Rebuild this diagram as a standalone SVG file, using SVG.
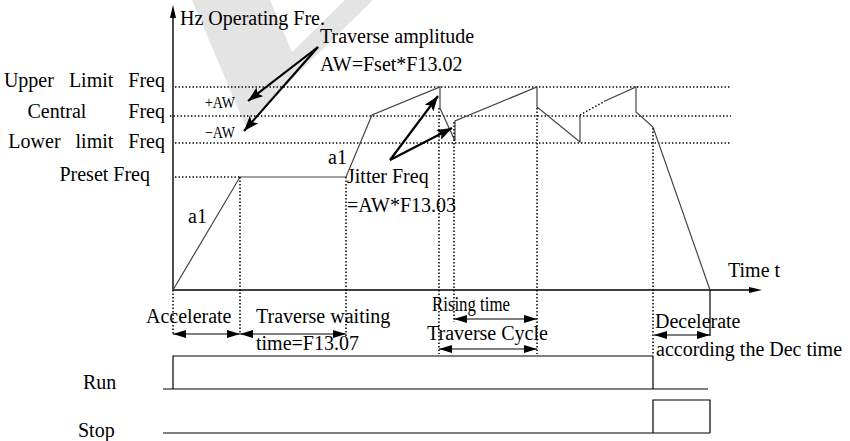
<svg xmlns="http://www.w3.org/2000/svg" width="850" height="441" viewBox="0 0 850 441">
<style>
text{font-family:"Liberation Serif","Times New Roman",serif;font-size:20px;fill:#000}
.narrow{font-size:17px}
.axis{stroke:#000;stroke-width:1.4;fill:none}
.dot{stroke:#000;stroke-width:1.5;stroke-dasharray:1.4 2.1;fill:none}
.curve{stroke:#444;stroke-width:1.2;fill:none}
.thick{stroke:#000;stroke-width:2.2;fill:none;marker-end:url(#big)}
.dim{stroke:#000;stroke-width:1.2;fill:none;marker-start:url(#sm);marker-end:url(#sm)}
.sig{stroke:#000;stroke-width:1.2;fill:none}
</style>
<defs>
<marker id="big" markerUnits="userSpaceOnUse" markerWidth="16" markerHeight="12" refX="15" refY="5.5" orient="auto"><path d="M0,0 L15,5.5 L0,11 L3,5.5 z" fill="#000"/></marker>
<marker id="sm" markerUnits="userSpaceOnUse" markerWidth="14" markerHeight="9" refX="13" refY="4" orient="auto-start-reverse"><path d="M0,0 L13,4 L0,8 z" fill="#000"/></marker>
</defs>
<polygon id="watermark" points="192,0 270,0 292,52 345,0 373,0 245,125" fill="#e4e4e4"/>
<g id="axes">
<line class="axis" x1="173" y1="14" x2="173" y2="290"/>
<path d="M173,5 L170,18 L176,18 z" fill="#000"/>
<line class="axis" x1="173" y1="290" x2="752" y2="290"/>
<path d="M762,290 L749,287 L749,293 z" fill="#000"/>
<text x="180" y="25">Hz Operating Fre.</text>
<text x="728" y="277">Time t</text>
</g>
<g id="levels">
<text x="165" y="87" text-anchor="end" word-spacing="10">Upper Limit Freq</text>
<text x="165" y="118" text-anchor="end" word-spacing="37">Central Freq</text>
<text x="165" y="148" text-anchor="end" word-spacing="10">Lower limit Freq</text>
<text x="150" y="181" text-anchor="end">Preset Freq</text>
<line class="dot" x1="175" y1="87" x2="731" y2="87"/>
<line class="dot" x1="170" y1="116" x2="731" y2="116"/>
<line class="dot" x1="175" y1="143" x2="731" y2="143"/>
<line class="dot" x1="175" y1="177" x2="240" y2="177"/>
<text class="narrow" x="205" y="108" textLength="30" lengthAdjust="spacingAndGlyphs">+AW</text>
<text class="narrow" x="205" y="138" textLength="30" lengthAdjust="spacingAndGlyphs">−AW</text>
</g>
<g id="curve">
<path class="curve" d="M173,290 L240,177 L346,177 L372,115 L440,87 L440,108 L455,141 L455,121 L537,87 L537,107 L580,142 L580,115"/>
<path class="dot" d="M580,115 L605,101"/>
<path class="curve" d="M605,101 L636,87 L636,112 L653,127 L710,290"/>
<text x="188" y="223">a1</text>
<text x="328" y="164">a1</text>
</g>
<g id="markers">
<line class="dot" x1="173" y1="290" x2="173" y2="334"/>
<line class="dot" x1="240" y1="177" x2="240" y2="334"/>
<line class="dot" x1="346" y1="177" x2="346" y2="336"/>
<line class="dot" x1="439" y1="108" x2="439" y2="354"/>
<line class="dot" x1="454" y1="122" x2="454" y2="322"/>
<line class="dot" x1="537" y1="108" x2="537" y2="354"/>
<line class="dot" x1="653" y1="128" x2="653" y2="355"/>
<line class="sig" x1="710" y1="290" x2="710" y2="336"/>
</g>
<g id="annotations">
<text x="320" y="43">Traverse amplitude</text>
<text x="320" y="71">AW=Fset*F13.02</text>
<text x="347" y="183">Jitter Freq</text>
<text x="347" y="212">=AW*F13.03</text>
</g>
<g id="connectors">
<line class="thick" x1="318" y1="47" x2="248" y2="101"/>
<line class="thick" x1="318" y1="47" x2="244" y2="131"/>
<line class="thick" x1="390" y1="160" x2="438" y2="96"/>
<line class="thick" x1="390" y1="160" x2="452" y2="128"/>
<line class="dim" x1="173" y1="334" x2="240" y2="334"/>
<line class="dim" x1="240" y1="334" x2="346" y2="334"/>
<line class="dim" x1="454" y1="319" x2="537" y2="319"/>
<line class="dim" x1="439" y1="349" x2="537" y2="349"/>
<line class="dim" x1="654" y1="335" x2="710" y2="335"/>
</g>
<g id="timing-labels">
<text x="146" y="323">Accelerate</text>
<text x="256" y="323">Traverse waiting</text>
<text x="256" y="350">time=F13.07</text>
<text x="432" y="311" textLength="78" lengthAdjust="spacingAndGlyphs">Rising time</text>
<text x="427" y="340">Traverse Cycle</text>
<text x="655" y="328">Decelerate</text>
<text x="656" y="356">according the Dec time</text>
</g>
<g id="run">
<text x="83" y="389">Run</text>
<path class="sig" d="M163,389 L708,389 M173,389 L173,356 L653,356 L653,389"/>
</g>
<g id="stop">
<text x="78" y="437">Stop</text>
<path class="sig" d="M163,433 L710,433 M653,433 L653,400 L710,400 L710,433"/>
</g>
</svg>
